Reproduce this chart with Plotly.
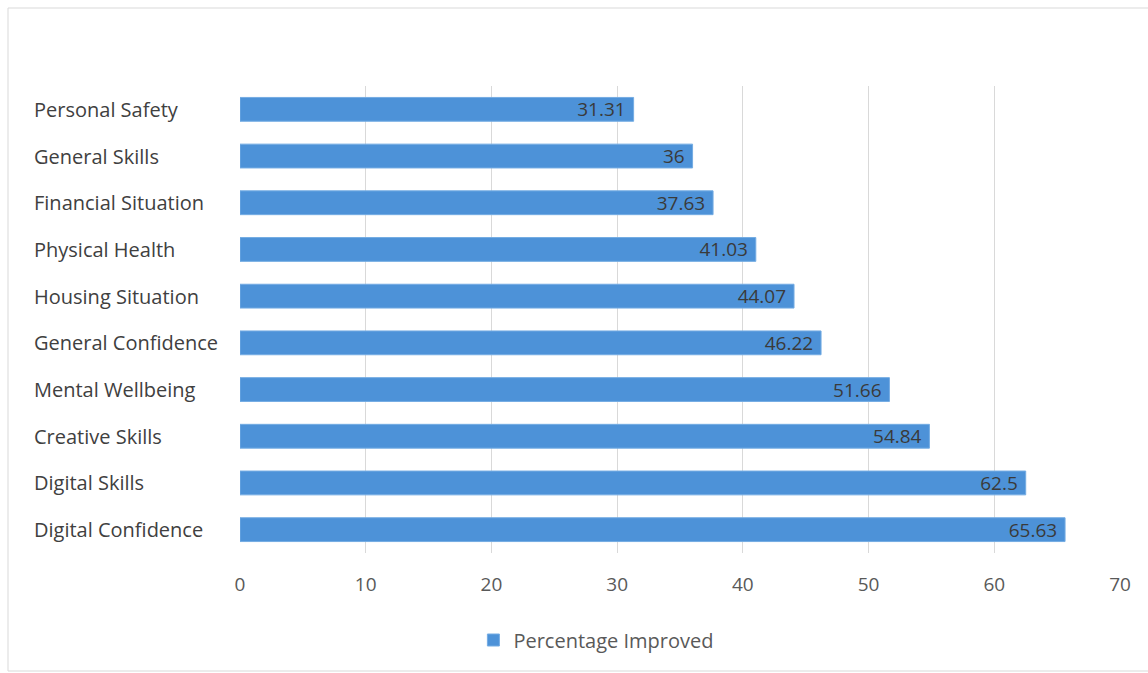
import plotly.graph_objects as go

categories = ["Personal Safety", "General Skills", "Financial Situation", "Physical Health",
              "Housing Situation", "General Confidence", "Mental Wellbeing", "Creative Skills",
              "Digital Skills", "Digital Confidence"]
values = [31.31, 36, 37.63, 41.03, 44.07, 46.22, 51.66, 54.84, 62.5, 65.63]
value_labels = ["31.31", "36", "37.63", "41.03", "44.07", "46.22", "51.66", "54.84", "62.5", "65.63"]
series_name = "Percentage Improved"
x_ticks = [0, 10, 20, 30, 40, 50, 60, 70]

FONT = "Open Sans"
W, H = 1148, 673
L, R, T, B = 240, 28, 86, 120
pw, ph = W - L - R, H - T - B

fig = go.Figure()
fig.add_trace(go.Bar(
    y=categories, x=values, orientation="h", name=series_name,
    marker=dict(color="#4d92d8", line=dict(color="#74ace3", width=1)),
    text=[v + "\u00a0" for v in value_labels], textposition="inside",
    insidetextanchor="end", textangle=0, constraintext="none",
    textfont=dict(family=FONT, size=19, color="#3a3a3a"),
    showlegend=True,
))

for c in categories:
    fig.add_annotation(x=(32 - L) / pw, xref="paper", y=c, yref="y", text=c,
                       showarrow=False, xanchor="left",
                       font=dict(family=FONT, size=20, color="#404040"))

def px_x(p):
    return (p - L) / pw

def px_y(p):
    return (H - B - p) / ph

fig.add_shape(type="rect", xref="paper", yref="paper",
              x0=px_x(8), x1=px_x(1160), y0=px_y(671), y1=px_y(8),
              line=dict(color="#d9d9d9", width=1), fillcolor="rgba(0,0,0,0)", layer="below")

fig.update_layout(
    width=W, height=H,
    margin=dict(l=L, r=R, t=T, b=B),
    paper_bgcolor="white", plot_bgcolor="white",
    bargap=0.49,
    font=dict(family=FONT, size=19, color="#595959"),
    xaxis=dict(range=[0, 70], tickvals=x_ticks, showgrid=True, gridcolor="#d9d9d9",
               gridwidth=1, zeroline=False, showline=False, ticks="", ticklabelstandoff=18,
               tickfont=dict(family=FONT, size=19, color="#595959")),
    yaxis=dict(autorange="reversed", showticklabels=False, showgrid=False, zeroline=False,
               showline=False, ticks=""),
    legend=dict(orientation="h", x=0.405, xanchor="center", y=px_y(640), yanchor="middle",
                font=dict(family=FONT, size=20, color="#595959"), itemwidth=30),
    uniformtext=dict(minsize=19, mode="show"),
)

fig.write_html("out.html")
